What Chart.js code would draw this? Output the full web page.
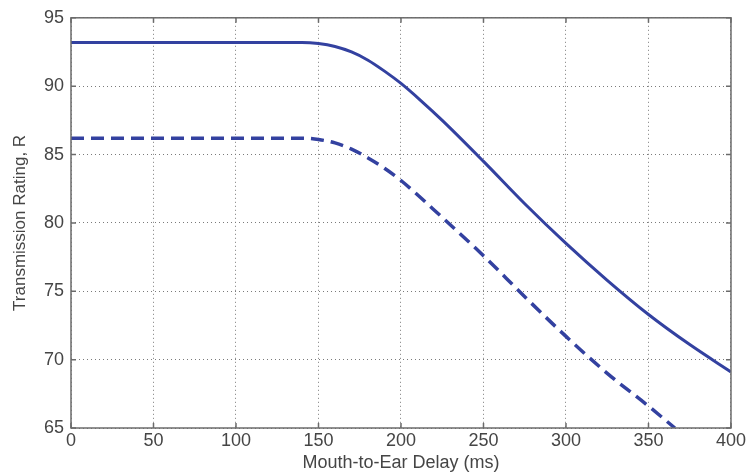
<!DOCTYPE html>
<html>
<head>
<meta charset="utf-8">
<script src="https://cdn.jsdelivr.net/npm/chart.js@4"></script>
<style>
    html, body { margin: 0; padding: 0; background: #fff; }
    #wrap { width: 748px; height: 474px; }
</style>
</head>
<body>
<div id="wrap"><canvas id="delayChart" width="748" height="474"></canvas></div>
<script>
// mouth-to-ear delay vs transmission rating

const solidDelay = [0, 100, 140, 150, 160, 170, 180, 190, 200, 212, 225, 250, 275, 300, 325, 350, 375, 400];
const solidR = [93.2, 93.2, 93.2, 93.12, 92.9, 92.5, 91.9, 91.1, 90.2, 88.95, 87.5, 84.5, 81.4, 78.5, 75.8, 73.3, 71.1, 69.1];

const dashedDelay = [0, 100, 140, 150, 160, 170, 180, 190, 200, 225, 250, 275, 300, 325, 350, 366];
const dashedR = [86.2, 86.2, 86.2, 86.1, 85.85, 85.4, 84.75, 84.0, 83.1, 80.4, 77.6, 74.6, 71.7, 69.0, 66.6, 65.0];

const xTicks = [0, 50, 100, 150, 200, 250, 300, 350, 400];
const yTicks = [65, 70, 75, 80, 85, 90, 95];

const lineColor = '#3341a0';
const axisColor = '#6b6b6b';
const textColor = '#454545';

function toPoints(xs, ys) {
    return xs.map((x, i) => ({ x: x, y: ys[i] }));
}

// matlab style box with inward ticks
const boxPlugin = {
    id: 'boxPlugin',
    afterDraw(chart) {
        const ctx = chart.ctx;
        const area = chart.chartArea;
        const xs = chart.scales.x;
        const ys = chart.scales.y;
        const len = 5;
        ctx.save();
        ctx.strokeStyle = axisColor;
        ctx.lineWidth = 1.5;
        ctx.strokeRect(area.left, area.top, area.right - area.left, area.bottom - area.top);
        ctx.beginPath();
        xTicks.forEach(v => {
            const px = xs.getPixelForValue(v);
            ctx.moveTo(px, area.bottom);
            ctx.lineTo(px, area.bottom - len);
            ctx.moveTo(px, area.top);
            ctx.lineTo(px, area.top + len);
        });
        yTicks.forEach(v => {
            const py = ys.getPixelForValue(v);
            ctx.moveTo(area.left, py);
            ctx.lineTo(area.left + len, py);
            ctx.moveTo(area.right, py);
            ctx.lineTo(area.right - len, py);
        });
        ctx.stroke();
        ctx.restore();
    }
};

const ctx = document.getElementById('delayChart').getContext('2d');
const config = {
    type: 'line',
    data: {
        datasets: [
            {
                label: 'solid',
                data: toPoints(solidDelay, solidR),
                borderColor: lineColor,
                borderWidth: 3,
                pointRadius: 0,
                cubicInterpolationMode: 'monotone',
                fill: false
            },
            {
                label: 'dashed',
                data: toPoints(dashedDelay, dashedR),
                borderColor: lineColor,
                borderWidth: 3.5,
                borderDash: [13, 7],
                pointRadius: 0,
                cubicInterpolationMode: 'monotone',
                fill: false
            }
        ]
    },
    options: {
        responsive: false,
        animation: false,
        layout: { padding: { top: 15, right: 15, left: 0, bottom: 0 } },
        plugins: {
            legend: { display: false },
            tooltip: { enabled: false }
        },
        scales: {
            x: {
                type: 'linear',
                min: 0,
                max: 400,
                afterBuildTicks: (scale) => { scale.ticks = xTicks.map(v => ({ value: v })); },
                afterFit: (scale) => { scale.height = 46; },
                ticks: {
                    color: textColor,
                    font: { family: 'Liberation Sans, Arial, sans-serif', size: 18 },
                    padding: 2,
                    maxRotation: 0
                },
                grid: {
                    color: '#7a7a7a',
                    lineWidth: 1,
                    drawTicks: false
                },
                border: { display: false, dash: [1, 3] },
                title: {
                    display: true,
                    text: 'Mouth-to-Ear Delay (ms)',
                    color: textColor,
                    font: { family: 'Liberation Sans, Arial, sans-serif', size: 18 },
                    padding: { top: 0, bottom: 0 }
                }
            },
            y: {
                type: 'linear',
                min: 65,
                max: 95,
                afterBuildTicks: (scale) => { scale.ticks = yTicks.map(v => ({ value: v })); },
                afterFit: (scale) => { scale.width = 71; },
                ticks: {
                    color: textColor,
                    font: { family: 'Liberation Sans, Arial, sans-serif', size: 18 },
                    padding: 7
                },
                grid: {
                    color: '#7a7a7a',
                    lineWidth: 1,
                    drawTicks: false
                },
                border: { display: false, dash: [1, 3] },
                title: {
                    display: true,
                    text: 'Transmission Rating, R',
                    color: textColor,
                    font: { family: 'Liberation Sans, Arial, sans-serif', size: 17 },
                    padding: { top: 10, bottom: 2 }
                }
            }
        }
    },
    plugins: [boxPlugin]
};
const myChart = new Chart(ctx, config);
</script>
</body>
</html>
